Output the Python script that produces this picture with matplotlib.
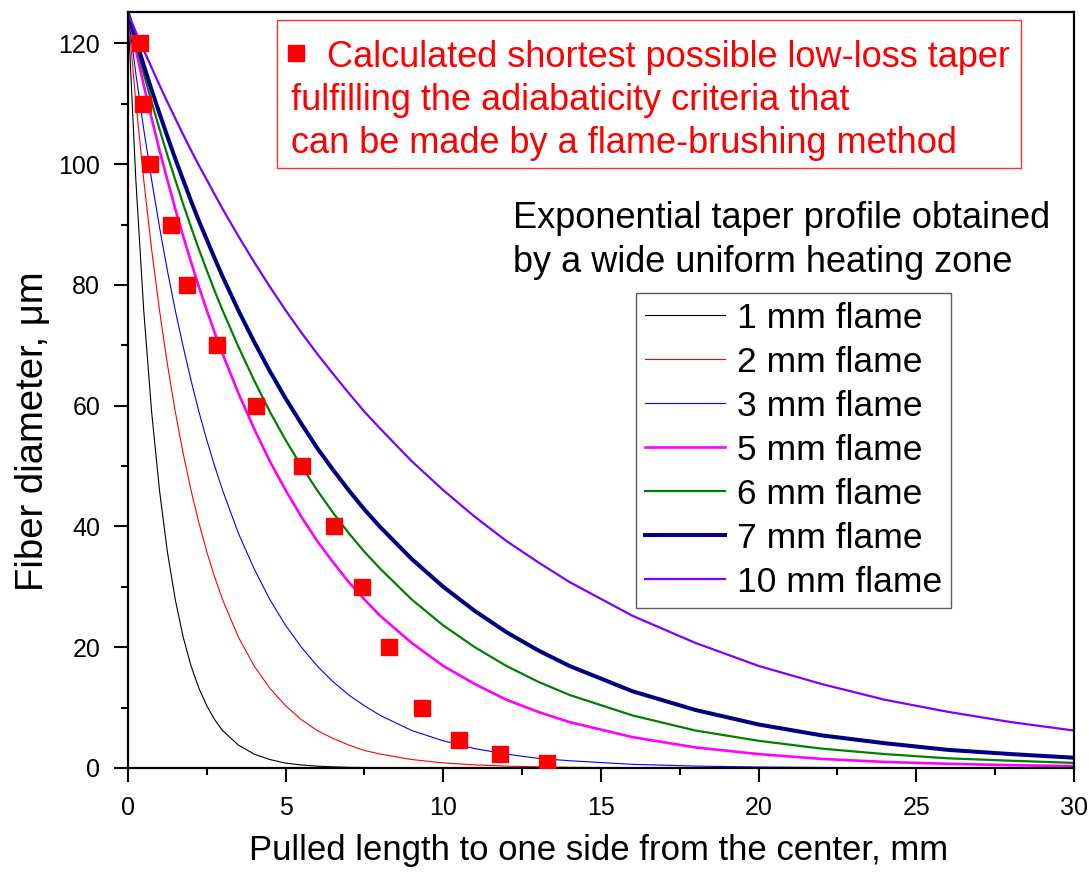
import matplotlib
matplotlib.use('Agg')
import matplotlib.pyplot as plt
from matplotlib.patches import Rectangle
from matplotlib.ticker import MultipleLocator

plt.rcParams['font.family'] = ['Liberation Sans', 'DejaVu Sans']

# pulled length (mm), shared by all taper curves
x = [0, 0.25, 0.5, 0.75, 1, 1.25, 1.5, 1.75, 2, 2.25, 2.5, 2.75, 3, 3.5, 4, 4.5, 5,
     5.5, 6, 6.5, 7, 7.5, 8, 9, 10, 11, 12, 13, 14, 16, 18, 20, 22, 24, 26, 28, 30]

# fiber diameter (um) for each flame width
d1 = [125, 97.4, 75.8, 59.0, 46.0, 35.8, 27.9, 21.7, 16.9, 13.2, 10.3, 8.0, 6.2, 3.8,
      2.3, 1.4, 0.8, 0.5, 0.3, 0.19, 0.1, 0.07, 0.04,
      0, 0, 0, 0, 0, 0, 0, 0, 0, 0, 0, 0, 0, 0]
d2 = [125, 110.3, 97.4, 85.9, 75.8, 66.9, 59.0, 52.1, 46.0, 40.6, 35.8, 31.6, 27.9,
      21.7, 16.9, 13.2, 10.3, 8.0, 6.2, 4.9, 3.8, 2.9, 2.3, 1.4, 0.84, 0.51, 0.31,
      0.19, 0.11, 0.04, 0.01, 0, 0, 0, 0, 0, 0]
d3 = [125, 115.0, 105.8, 97.4, 89.6, 82.4, 75.8, 69.8, 64.2, 59.0, 54.3, 50.0, 46.0,
      38.9, 33.0, 27.9, 23.6, 20.0, 16.9, 14.3, 12.1, 10.3, 8.7, 6.2, 4.5, 3.2, 2.3,
      1.6, 1.2, 0.6, 0.31, 0.16, 0.08, 0.04, 0.02, 0.01, 0.01]
d5 = [125, 118.9, 113.1, 107.6, 102.3, 97.4, 92.6, 88.1, 83.8, 79.7, 75.8, 72.1, 68.6,
      62.1, 56.2, 50.8, 46.0, 41.6, 37.6, 34.1, 30.8, 27.9, 25.2, 20.7, 16.9, 13.9,
      11.3, 9.3, 7.6, 5.1, 3.4, 2.3, 1.5, 1.0, 0.69, 0.46, 0.31]
d6 = [125, 119.9, 115.0, 110.3, 105.8, 101.5, 97.4, 93.4, 89.6, 85.9, 82.4, 79.0, 75.8,
      69.8, 64.2, 59.0, 54.3, 50.0, 46.0, 42.3, 38.9, 35.8, 33.0, 27.9, 23.6, 20.0,
      16.9, 14.3, 12.1, 8.7, 6.2, 4.5, 3.2, 2.3, 1.6, 1.2, 0.84]
d7 = [125, 120.6, 116.4, 112.3, 108.4, 104.6, 100.9, 97.4, 93.9, 90.6, 87.5, 84.4, 81.4,
      75.8, 70.6, 65.7, 61.2, 57.0, 53.0, 49.4, 46.0, 42.8, 39.9, 34.6, 30.0, 26.0,
      22.5, 19.5, 16.9, 12.7, 9.6, 7.2, 5.4, 4.1, 3.0, 2.3, 1.7]
d10 = [125, 121.9, 118.9, 116.0, 113.1, 110.3, 107.6, 104.9, 102.3, 99.8, 97.4, 95.0,
       92.6, 88.1, 83.8, 79.7, 75.8, 72.1, 68.6, 65.3, 62.1, 59.0, 56.2, 50.8, 46.0,
       41.6, 37.6, 34.1, 30.8, 25.2, 20.7, 16.9, 13.9, 11.3, 9.3, 7.6, 6.2]

# shortest adiabatic taper (flame-brushing), red squares
xs = [0.38, 0.48, 0.70, 1.37, 1.87, 2.83, 4.06, 5.53, 6.54, 7.43, 8.29, 9.33, 10.5, 11.8, 13.3]
ys = [120, 110, 100, 90, 80, 70, 60, 50, 40, 30, 20, 10, 4.6, 2.3, 0.8]

curves = [(d1, '1 mm flame', 'black', 0.8),
          (d2, '2 mm flame', '#ff0000', 0.8),
          (d3, '3 mm flame', '#0000ff', 0.8),
          (d5, '5 mm flame', '#ff00ff', 1.9),
          (d6, '6 mm flame', '#008000', 1.6),
          (d7, '7 mm flame', '#000080', 2.9),
          (d10, '10 mm flame', '#8000ff', 1.6)]

fig = plt.figure(figsize=(10.89, 8.72), dpi=100)
ax = fig.add_axes([0.1175, 0.1193, 0.8687, 0.8669])

lines = []
for d, lab, col, lw in curves:
    ln, = ax.plot(x, d, color=col, lw=lw, label=lab)
    lines.append(ln)

ax.plot(xs, ys, 's', color='#ff0000', ms=12, mec='#ff0000', zorder=5)

ax.set_xlim(0, 30)
ax.set_ylim(0, 125.2)
ax.xaxis.set_major_locator(MultipleLocator(5))
ax.xaxis.set_minor_locator(MultipleLocator(2.5))
ax.yaxis.set_major_locator(MultipleLocator(20))
ax.yaxis.set_minor_locator(MultipleLocator(10))
ax.tick_params(which='both', direction='out', width=1.5, labelsize=18)
ax.tick_params(which='major', length=10, pad=10)
ax.tick_params(which='minor', length=5)
for s in ax.spines.values():
    s.set_linewidth(1.6)

ax.set_xlabel('Pulled length to one side from the center, mm', fontsize=25)
ax.set_ylabel('Fiber diameter, μm', fontsize=27.5)
ax.xaxis.set_label_coords(0.497, -0.088)
ax.yaxis.set_label_coords(-0.0814, 0.446)

# red annotation box
ax.add_patch(Rectangle((0.1575, 0.7937), 0.7865, 0.1957, transform=ax.transAxes,
                       fill=False, edgecolor='#ff3030', lw=1.0, zorder=6))
ax.plot([0.1776], [0.9458], 's', color='#ff0000', ms=11, transform=ax.transAxes,
        clip_on=False, zorder=6)
ax.text(0.2104, 0.9405, 'Calculated shortest possible low-loss taper', color='#ff0000',
        fontsize=26, transform=ax.transAxes, va='center', ha='left')
ax.text(0.1723, 0.8836, 'fulfilling the adiabaticity criteria that', color='#ff0000',
        fontsize=26, transform=ax.transAxes, va='center', ha='left')
ax.text(0.1723, 0.8267, 'can be made by a flame-brushing method', color='#ff0000',
        fontsize=26, transform=ax.transAxes, va='center', ha='left')

ax.text(0.407, 0.7275, 'Exponential taper profile obtained', color='black',
        fontsize=26, transform=ax.transAxes, va='center', ha='left')
ax.text(0.407, 0.669, 'by a wide uniform heating zone', color='black',
        fontsize=26, transform=ax.transAxes, va='center', ha='left')

leg = ax.legend(handles=lines, loc='upper left', bbox_to_anchor=(0.537, 0.6283),
                borderaxespad=0, fontsize=25.5, frameon=True, fancybox=False,
                handlelength=2.25, handletextpad=0.35, labelspacing=0.31,
                borderpad=0.25)
leg.get_frame().set_edgecolor('#333333')
leg.get_frame().set_linewidth(1.0)

fig.savefig('out.png', dpi=100)
